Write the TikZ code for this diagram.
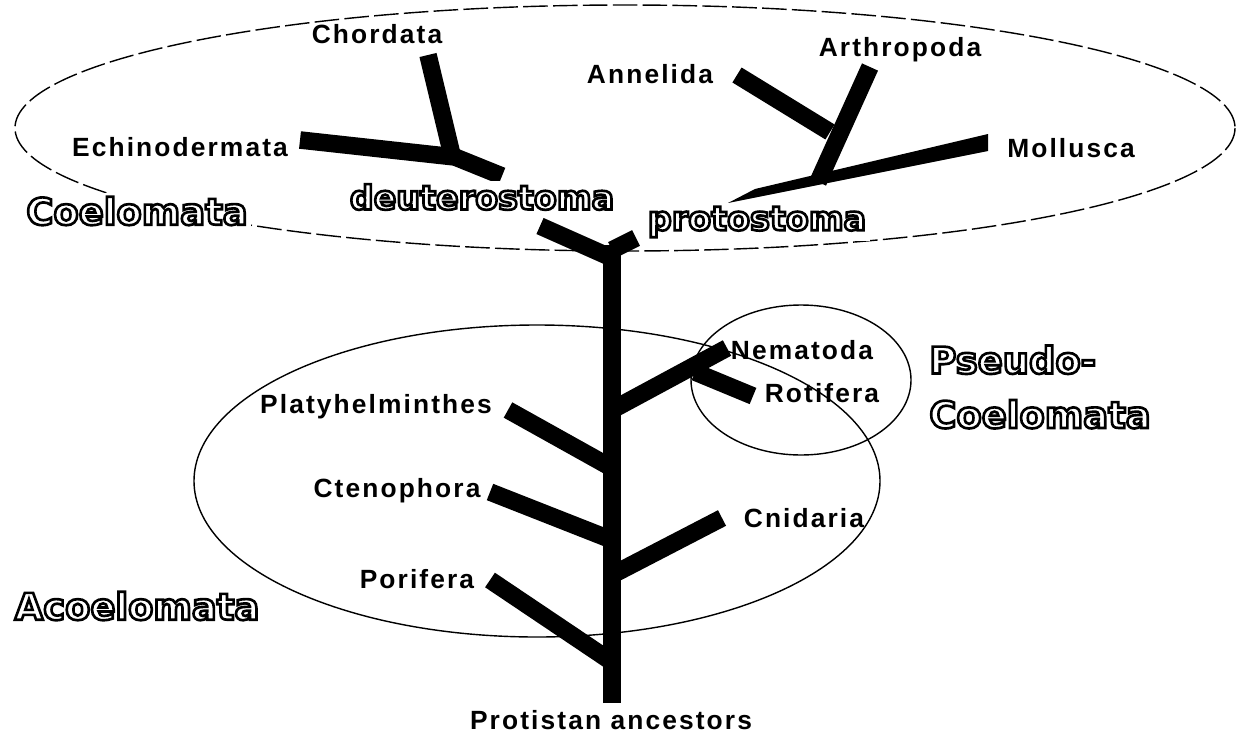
\documentclass[tikz,border=0pt]{standalone}
\usepackage{fontspec}
\setmainfont{Liberation Sans}
\newfontfamily\taxonfont{Liberation Sans}[LetterSpace=8]
\newfontfamily\groupfont{DejaVu Sans}
\newcommand{\hollow}[1]{\special{pdf:code q 1 Tr 1.5 w}#1\special{pdf:code Q}}
\usetikzlibrary{positioning}

\begin{document}
\begin{tikzpicture}[x=0.02cm, y=-0.02cm,
    branch/.style={line width=10pt},
    border/.style={line width=0.8pt},
    taxon/.style={font=\taxonfont\bfseries\fontsize{15}{17}\selectfont, inner sep=1pt},
    group/.style={font=\groupfont\bfseries\fontsize{21}{31}\selectfont, inner sep=2pt, align=left}]
    \useasboundingbox (0,0) rectangle (1250,737);

    % Groups
    \draw[border, dash pattern=on 14pt off 3pt] (625,128) ellipse [x radius=610, y radius=123];
    \draw[border] (537,481) ellipse [x radius=343, y radius=156];
    \draw[border] (801,380) ellipse [x radius=110, y radius=75];

    % Branch points
    \coordinate (root) at (612,703);
    \coordinate (top) at (612,245);
    \coordinate (por) at (490,580);
    \coordinate (cte) at (490,492);
    \coordinate (pla) at (508,410);
    \coordinate (cni) at (722,518);
    \coordinate (nem) at (727,348);
    \coordinate (rot_a) at (695,372);
    \coordinate (rot) at (753,396);
    \coordinate (deu) at (540,226);
    \coordinate (pro) at (636,238);
    \coordinate (ech) at (300,140);
    \coordinate (deu_a) at (455,157);
    \coordinate (deu_b) at (502,176);
    \coordinate (cho) at (428,55);
    \coordinate (art_a) at (818,182);
    \coordinate (art) at (870,67);
    \coordinate (ann) at (737,75);
    \coordinate (ann_a) at (830,132);

    % Trunk
    \draw[branch] (root) -- (top);

    % Acoelomata and Pseudocoelomata
    \draw[branch] (por) -- (612,662);
    \draw[branch] (cte) -- (612,540);
    \draw[branch] (pla) -- (612,468);
    \draw[branch] (612,575) -- (cni);
    \draw[branch] (612,410) -- (nem);
    \draw[branch] (rot_a) -- (rot);

    % Coelomata
    \draw[branch] (612,258) -- (deu);
    \draw[branch] (612,250) -- (pro);
    \draw[branch] (ech) -- (deu_a) -- (deu_b);
    \draw[branch] (cho) -- (452,155);
    \fill (728,203) -- (755,189) -- (988,134) -- (988,151) -- cycle;
    \draw[branch] (art_a) -- (art);
    \draw[branch] (ann) -- (ann_a);

    % Taxa
    \node[taxon] (chordata) at (377,34) {Chordata};
    \node[taxon] (echinodermata) at (180,147) {Echinodermata};
    \node[taxon] (annelida) at (650,74) {Annelida};
    \node[taxon] (arthropoda) at (900,50) {Arthropoda};
    \node[taxon] (mollusca) at (1071,148) {Mollusca};
    \node[taxon] (nematoda) at (802,350) {Nematoda};
    \node[taxon] (rotifera) at (822,393) {Rotifera};
    \node[taxon] (platy) at (376,407) {Platyhelminthes};
    \node[taxon] (ctenophora) at (397,491) {Ctenophora};
    \node[taxon] (cnidaria) at (804,518) {Cnidaria};
    \node[taxon] (porifera) at (417,579) {Porifera};
    \node[taxon] (ancestors) at (611,720) {Protistan ancestors};

    % Group labels
    \node[group, fill=white] (coelomata) at (137,211) {\hollow{Coelomata}};
    \node[group, fill=white, font=\groupfont\bfseries\fontsize{19}{24}\selectfont] (deutero) at (482,197) {\hollow{deuterostoma}};
    \node[group, fill=white, font=\groupfont\bfseries\fontsize{19}{24}\selectfont] (proto) at (757,222) {\hollow{protostoma}};
    \node[group] (pseudo) at (1040,387) {\hollow{Pseudo-}\\\hollow{Coelomata}};
    \node[group] (acoelomata) at (137,606) {\hollow{Acoelomata}};
\end{tikzpicture}
\end{document}
